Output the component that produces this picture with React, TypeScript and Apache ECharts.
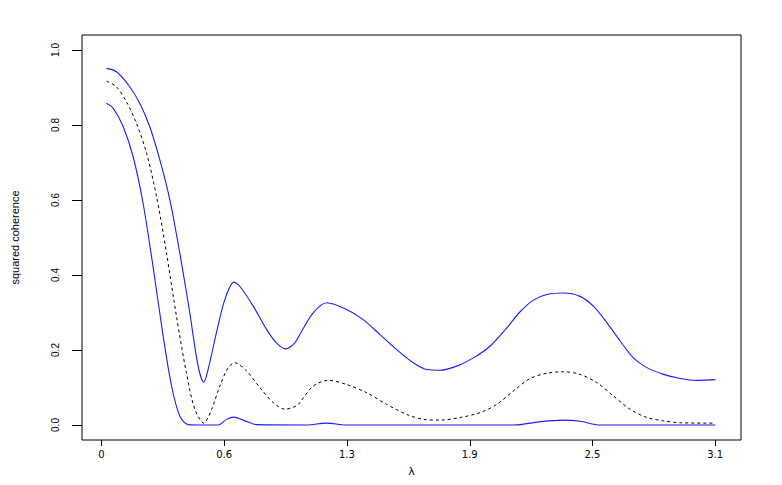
import React, { useEffect, useRef } from "react";
import * as echarts from "echarts";

// Frequencies (x) and squared coherence (y)
const upperFreq = [0.026, 0.077, 0.145, 0.196, 0.247, 0.299, 0.35, 0.401, 0.452, 0.495, 0.524, 0.546, 0.589, 0.632, 0.678, 0.708, 0.777, 0.845, 0.896, 0.944, 0.99, 1.016, 1.084, 1.153, 1.255, 1.34, 1.426, 1.511, 1.596, 1.665, 1.733, 1.819, 1.904, 1.989, 2.075, 2.143, 2.211, 2.28, 2.365, 2.45, 2.518, 2.587, 2.655, 2.723, 2.792, 2.877, 2.963, 3.048, 3.142];
const upperVals = [0.951, 0.942, 0.902, 0.858, 0.796, 0.707, 0.601, 0.459, 0.3, 0.157, 0.114, 0.148, 0.247, 0.335, 0.381, 0.37, 0.317, 0.255, 0.219, 0.203, 0.219, 0.242, 0.299, 0.326, 0.308, 0.281, 0.241, 0.201, 0.166, 0.148, 0.146, 0.157, 0.179, 0.21, 0.259, 0.302, 0.333, 0.348, 0.352, 0.343, 0.317, 0.273, 0.224, 0.179, 0.153, 0.135, 0.124, 0.119, 0.121];

const estFreq = [0.026, 0.077, 0.128, 0.179, 0.231, 0.282, 0.333, 0.384, 0.435, 0.478, 0.524, 0.564, 0.606, 0.649, 0.683, 0.743, 0.811, 0.879, 0.939, 0.999, 1.016, 1.084, 1.161, 1.255, 1.358, 1.46, 1.563, 1.648, 1.733, 1.836, 1.938, 2.024, 2.109, 2.194, 2.28, 2.365, 2.45, 2.536, 2.621, 2.706, 2.792, 2.877, 2.963, 3.142];
const estVals = [0.917, 0.902, 0.862, 0.805, 0.725, 0.61, 0.459, 0.29, 0.139, 0.042, 0.005, 0.042, 0.104, 0.153, 0.166, 0.144, 0.1, 0.06, 0.042, 0.051, 0.06, 0.104, 0.119, 0.108, 0.086, 0.055, 0.028, 0.015, 0.013, 0.02, 0.033, 0.055, 0.091, 0.124, 0.138, 0.142, 0.135, 0.113, 0.077, 0.042, 0.02, 0.011, 0.006, 0.005];

const lowerFreq = [0.026, 0.06, 0.111, 0.162, 0.213, 0.264, 0.316, 0.359, 0.401, 0.444, 0.5, 0.597, 0.64, 0.678, 0.726, 0.794, 1.05, 1.153, 1.25, 2.109, 2.25, 2.365, 2.45, 2.553, 3.142];
const lowerVals = [0.858, 0.845, 0.796, 0.716, 0.592, 0.423, 0.237, 0.104, 0.024, 0.001, 0.0, 0.0, 0.015, 0.021, 0.013, 0.001, 0.0, 0.005, 0.0, 0.0, 0.009, 0.013, 0.01, 0.0, 0.0];

// Tick positions: x at multiples of pi/5, y at multiples of 0.2
const xTickValues = [0, Math.PI / 5, (2 * Math.PI) / 5, (3 * Math.PI) / 5, (4 * Math.PI) / 5, Math.PI];
const xTickLabels = ["0", "0.6", "1.3", "1.9", "2.5", "3.1"];
const yTickValues = [0, 0.2, 0.4, 0.6, 0.8, 1.0];
const yTickLabels = ["0.0", "0.2", "0.4", "0.6", "0.8", "1.0"];

const zip = (xs: number[], ys: number[]) => xs.map((x, i) => [x, ys[i]]);

export default function App() {
  const ref = useRef<HTMLDivElement>(null);
  useEffect(() => {
    if (!ref.current) return;
    const chart = echarts.init(ref.current, undefined, { renderer: "svg" });
    const labelFor = (vals: number[], labels: string[]) => (v: number) => {
      let best = 0;
      vals.forEach((t, i) => {
        if (Math.abs(t - v) < Math.abs(vals[best] - v)) best = i;
      });
      return labels[best];
    };
    // data range padded 4% like R
    const xMin = -0.0994;
    const xMax = 3.2736;
    const yMin = -0.04;
    const yMax = 1.04;
    chart.setOption({
      animation: false,
      backgroundColor: "#ffffff",
      grid: {
        left: 82,
        top: 35,
        width: 659,
        height: 405,
        show: true,
        borderColor: "#000",
        borderWidth: 1,
      },
      xAxis: {
        type: "value",
        min: xMin,
        max: xMax,
        name: "λ",
        nameLocation: "middle",
        nameGap: 26,
        nameTextStyle: { color: "#000", fontFamily: "DejaVu Sans", fontSize: 11 },
        axisLine: { show: false, onZero: false },
        axisTick: { show: false },
        splitLine: { show: false },
        axisLabel: {
          customValues: xTickValues,
          formatter: labelFor(xTickValues, xTickLabels),
          margin: 9,
          color: "#000",
          fontFamily: "DejaVu Sans",
          fontSize: 10,
        },
      },
      yAxis: {
        type: "value",
        min: yMin,
        max: yMax,
        name: "squared coherence",
        nameLocation: "middle",
        nameGap: 62,
        nameTextStyle: {
          color: "#000",
          fontFamily: "Liberation Sans Narrow, Liberation Sans",
          fontSize: 11,
        },
        axisLine: { show: false, onZero: false },
        axisTick: { show: false },
        splitLine: { show: false },
        axisLabel: {
          customValues: yTickValues,
          formatter: labelFor(yTickValues, yTickLabels),
          rotate: 90,
          margin: 22,
          color: "#000",
          fontFamily: "Liberation Sans Narrow, Liberation Sans",
          fontSize: 10,
        },
      },
      series: [
        {
          type: "line",
          name: "upper",
          data: zip(upperFreq, upperVals),
          showSymbol: false,
          smooth: 0.3,
          lineStyle: { color: "#1a1aff", width: 1.1 },
        },
        {
          type: "line",
          name: "estimate",
          data: zip(estFreq, estVals),
          showSymbol: false,
          smooth: 0.3,
          lineStyle: { color: "#000000", width: 1, type: [3, 3] },
        },
        {
          type: "line",
          name: "lower",
          data: zip(lowerFreq, lowerVals),
          showSymbol: false,
          smooth: 0.3,
          lineStyle: { color: "#1a1aff", width: 1.1 },
        },
      ],
    });
    // Tick marks placed through the chart's own scales (convertToPixel)
    const ticks: any[] = [];
    xTickValues.forEach((v) => {
      const p = chart.convertToPixel({ gridIndex: 0 }, [v, yMin]) as number[];
      const x = Math.round(p[0]) + 0.5;
      ticks.push({
        type: "line",
        silent: true,
        z: 100,
        shape: { x1: x, y1: p[1], x2: x, y2: p[1] + 6 },
        style: { stroke: "#000000", lineWidth: 1 },
      });
    });
    yTickValues.forEach((v) => {
      const p = chart.convertToPixel({ gridIndex: 0 }, [xMin, v]) as number[];
      const y = Math.round(p[1]) + 0.5;
      ticks.push({
        type: "line",
        silent: true,
        z: 100,
        shape: { x1: p[0], y1: y, x2: p[0] - 10, y2: y },
        style: { stroke: "#000000", lineWidth: 1 },
      });
    });
    chart.setOption({ graphic: ticks });
    return () => chart.dispose();
  }, []);
  return <div ref={ref} style={{ width: 782, height: 485, margin: -8 }} />;
}
